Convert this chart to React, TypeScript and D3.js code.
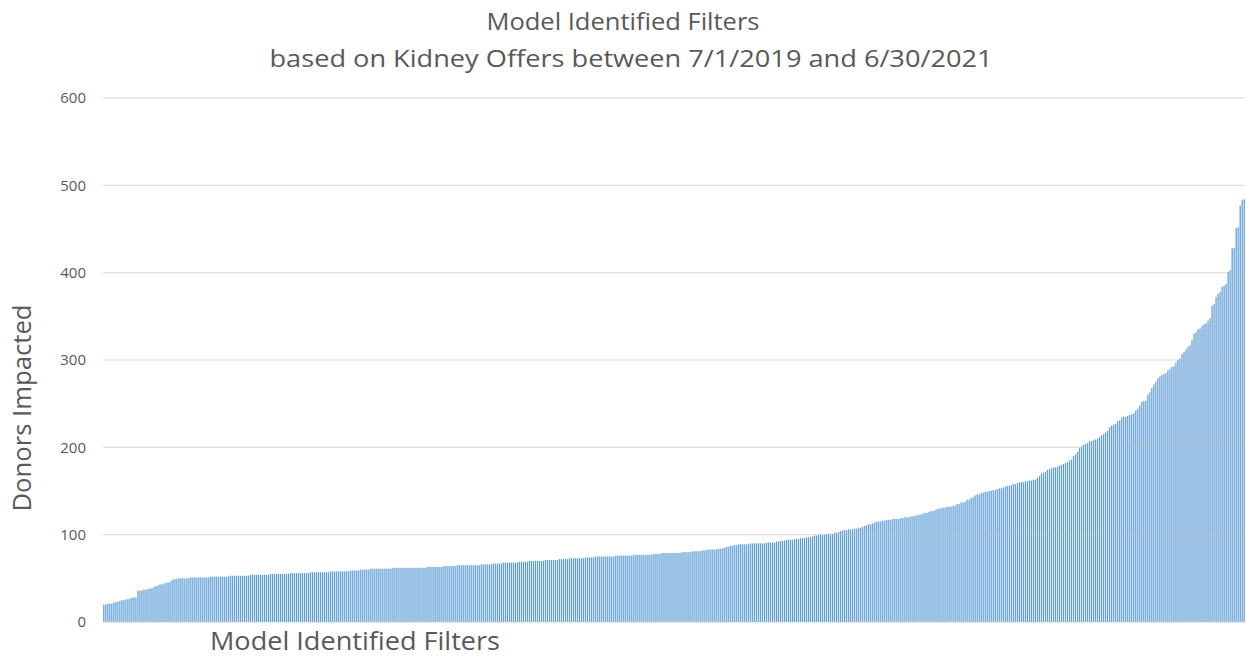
import React from "react";
import { scaleBand, scaleLinear } from "d3";

// bar heights, sorted ascending (one value per filter)
const donorsLow = [
  20, 20, 21, 21, 21, 22, 23, 23, 24, 25, 25, 26, 26, 27, 28, 28, 28,
  36, 36, 36, 37, 37, 38, 38, 39, 40, 41, 42, 43, 43, 44, 45, 45, 46,
  48, 49, 49, 50, 50, 50, 50, 50, 50,
  51, 51, 51, 51, 51, 51, 51, 51, 51, 51,
  52, 52, 52, 52, 52, 52, 52, 52, 52, 52,
  53, 53, 53, 53, 53, 53, 53, 53, 53, 53,
  54, 54, 54, 54, 54, 54, 54, 54, 54, 54,
  55, 55, 55, 55, 55, 55, 55, 55, 55, 55,
  56, 56, 56, 56, 56, 56, 56, 56, 56, 56,
  57, 57, 57, 57, 57, 57, 57, 57, 57, 57,
  58, 58, 58, 58, 58, 58, 58, 58, 58, 58,
  59, 59, 59, 59, 59, 60, 60, 60, 60, 60,
];

const donorsMid = [
  61, 61, 61, 61, 61, 61, 61, 61, 61, 61, 61,
  62, 62, 62, 62, 62, 62, 62, 62, 62, 62, 62, 62, 62, 62, 62, 62, 62,
  63, 63, 63, 63, 63, 63, 63, 63,
  64, 64, 64, 64, 64, 64, 64,
  65, 65, 65, 65, 65, 65, 65, 65, 65, 65, 65, 65,
  66, 66, 66, 66, 66, 66,
  67, 67, 67, 67, 67,
  68, 68, 68, 68, 68, 68, 68, 68,
  69, 69, 69, 69, 69,
  70, 70, 70, 70, 70, 70, 70, 70,
  71, 71, 71, 71, 71, 71, 71,
  72, 72, 72, 72, 72,
  73, 73, 73, 73, 73, 73, 73, 73,
  74, 74, 74, 74, 74,
  75, 75, 75, 75, 75, 75, 75, 75, 75, 75,
  76, 76, 76, 76, 76, 76, 76, 76, 76,
  77, 77, 77, 77, 77, 77, 77, 77, 77, 77,
  78, 78, 78, 78,
  79, 79, 79, 79, 79, 79, 79, 79, 79, 79,
  80, 80, 80, 80, 80,
  81, 81, 81, 81, 81, 82, 82, 82, 83, 83, 83, 83, 83, 84, 84, 84,
  85, 86, 86, 87, 87, 88, 88, 89, 89, 89, 89, 89, 89,
  90, 90, 90, 90, 90, 90, 90, 90, 91, 91, 91, 91, 91,
  92, 92, 93, 93, 93, 94, 94, 94, 94, 95, 95, 95, 96, 96, 96, 97, 97, 97,
  98, 99, 99, 100, 100, 100, 100, 101, 101, 101, 101, 102, 102, 103, 104,
  105, 105, 105, 106, 106, 106, 107, 107, 108, 108, 109, 110, 111,
  112, 112, 113, 114,
];

const donorsHigh = [
  115, 115, 115, 116, 116, 117, 117, 117, 118, 118, 118, 118,
  119, 119, 120, 120, 120, 121, 121, 122, 122, 123, 123, 124, 125, 125, 126,
  127, 127, 128, 129, 130, 130, 131, 131, 132, 132, 132, 133, 133, 135, 135,
  137, 137, 138, 140, 140, 142, 143, 145, 146, 146, 148, 148, 149, 149,
  150, 150, 151, 151, 152, 153, 153, 154, 155, 156, 156, 157, 158, 158, 159,
  160, 160, 160, 161, 161, 162, 162, 163, 163, 165, 167, 170, 171, 172,
  174, 175, 176, 177, 177, 178,
  179, 180, 181, 182, 183, 185, 186, 190, 192, 195, 199, 201, 203, 204, 205,
  207, 207, 208, 209, 210, 212, 214, 215, 217, 219, 223, 225, 226, 227,
  230, 231, 234, 235, 235, 236, 237, 238, 239, 242, 244, 248, 252, 253, 253,
  260, 263, 268, 272, 275, 279, 281, 283, 284, 285, 288, 290, 292, 293, 297,
  300, 302, 307, 309, 312, 315, 317, 323, 330, 332, 335, 336, 339, 341, 342,
  345, 348, 362, 364, 372, 376, 378, 384, 385, 387, 401, 403, 428, 428,
  451, 452, 477, 483, 484,
];

const donors = [...donorsLow, ...donorsMid, ...donorsHigh];
const yTicks = [0, 100, 200, 300, 400, 500, 600];

const titleLines = [
  "Model Identified Filters",
  "based on Kidney Offers between 7/1/2019 and 6/30/2021",
];
const yTitle = "Donors Impacted";
const xTitle = "Model Identified Filters";

const W = 1246;
const H = 658;
const margin = { top: 98, right: 1, left: 103, bottom: 36 };
const font = "'Open Sans', 'Noto Sans', sans-serif";

export default function App() {
  const x = scaleBand<number>()
    .domain(donors.map((_, i) => i))
    .range([margin.left, W - margin.right])
    .paddingInner(0.4)
    .paddingOuter(0.1);
  const y = scaleLinear()
    .domain([0, 600])
    .range([H - margin.bottom, margin.top]);

  return (
    <svg
      width={W}
      height={H}
      style={{ position: "absolute", left: 0, top: 0, background: "#fff" }}
      fontFamily={font}
    >
      <text x={623} y={30} textAnchor="middle" fontSize={24} fill="#595959"
        textLength={273} lengthAdjust="spacingAndGlyphs">
        {titleLines[0]}
      </text>
      <text x={631} y={67} textAnchor="middle" fontSize={24} fill="#595959"
        textLength={723} lengthAdjust="spacingAndGlyphs">
        {titleLines[1]}
      </text>

      {/* bars */}
      <g fill="#5B9BD5">
        {donors.map((d, i) => (
          <rect key={i} x={x(i)} y={y(d)} width={x.bandwidth()} height={y(0) - y(d)} />
        ))}
      </g>

      {/* gridlines over bars, faint */}
      <g stroke="#bfbfbf" strokeOpacity={0.6}>
        {yTicks.map((t) => (
          <line key={t} x1={margin.left} x2={W - margin.right} y1={y(t)} y2={y(t)} />
        ))}
      </g>

      <g fontSize={15} fill="#595959" textAnchor="end">
        {yTicks.map((t) => (
          <text key={t} x={86} y={y(t)} dy="0.35em">{t}</text>
        ))}
      </g>

      <text
        transform={`translate(31,${408}) rotate(-90)`}
        textAnchor="middle"
        fontSize={26}
        fill="#595959"
        textLength={207}
        lengthAdjust="spacingAndGlyphs"
      >
        {yTitle}
      </text>
      <text x={210} y={650} fontSize={25} fill="#595959"
        textLength={290} lengthAdjust="spacingAndGlyphs">
        {xTitle}
      </text>
    </svg>
  );
}
